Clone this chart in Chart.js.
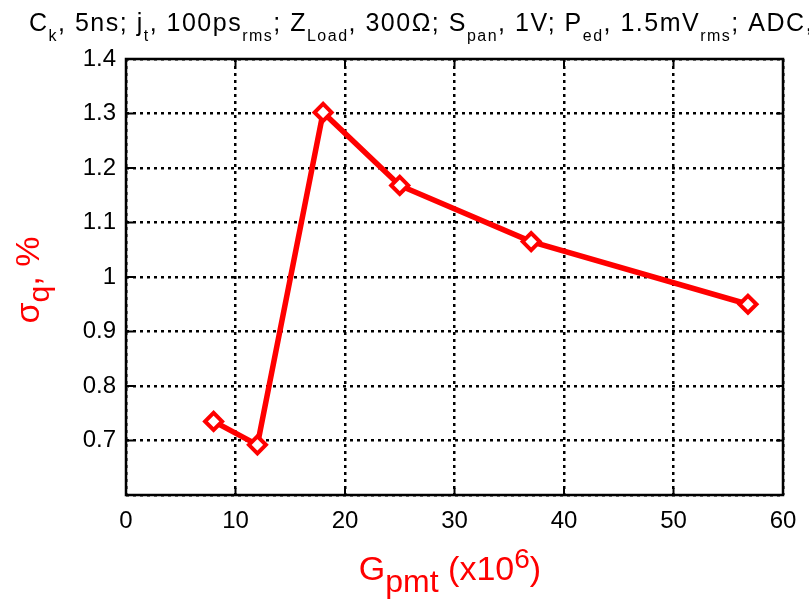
<!DOCTYPE html>
<html>
<head>
<meta charset="utf-8">
<script src="https://cdn.jsdelivr.net/npm/chart.js@4"></script>
<style>
  html, body { margin: 0; padding: 0; background: #fff; }
  #wrap { width: 809px; height: 605px; }
</style>
</head>
<body>
<div id="wrap"><canvas id="gainChart" width="809" height="605"></canvas></div>
<script>
// PMT gain vs charge resolution
const gains = [8, 12, 18, 25, 37, 56.8];
const sigmaQ = [0.735, 0.692, 1.302, 1.168, 1.065, 0.95];
const xTicks = [0, 10, 20, 30, 40, 50, 60];
const yTicks = [0.6, 0.7, 0.8, 0.9, 1, 1.1, 1.2, 1.3, 1.4];

const FONT = '"Liberation Sans", Arial, Helvetica, sans-serif';
const RED = '#ff0000';

// rich text pieces: [text, 'sub' | 'sup' | '']
const titleParts = [
    ['C', ''], ['k', 'sub'], [', 5ns; j', ''], ['t', 'sub'], [', 100ps', ''], ['rms', 'sub'],
    ['; Z', ''], ['Load', 'sub'], [', 300Ω; S', ''], ['pan', 'sub'], [', 1V; P', ''], ['ed', 'sub'],
    [', 1.5mV', ''], ['rms', 'sub'], ['; ADC,', '']
];
const yLabelParts = [['σ', ''], ['q', 'sub'], [', %', '']];
const xLabelParts = [['G', ''], ['pmt', 'sub'], [' (x10', ''], ['6', 'sup'], [')', '']];

// st: {size, sub, sup, subDy, supDy, spacing}
function drawRich(ctx, parts, x, y, st, align) {
    const sizeFor = m => (m === 'sub' ? st.sub : (m === 'sup' ? st.sup : st.size));
    ctx.letterSpacing = (st.spacing || 0) + 'px';
    let total = 0;
    parts.forEach(([t, m]) => { ctx.font = sizeFor(m) + 'px ' + FONT; total += ctx.measureText(t).width; });
    let cx = align === 'center' ? x - total / 2 : x;
    parts.forEach(([t, m]) => {
        ctx.font = sizeFor(m) + 'px ' + FONT;
        const dy = m === 'sub' ? st.subDy : (m === 'sup' ? st.supDy : 0);
        ctx.fillText(t, cx, y + dy);
        cx += ctx.measureText(t).width;
    });
    ctx.letterSpacing = '0px';
}

const decorations = {
    id: 'decorations',
    afterDraw(chart) {
        const { ctx, chartArea: a, scales } = chart;
        ctx.save();
        // inward tick marks on all four sides
        ctx.strokeStyle = '#000';
        ctx.lineWidth = 2;
        ctx.beginPath();
        xTicks.forEach(v => {
            const px = scales.x.getPixelForValue(v);
            ctx.moveTo(px, a.bottom); ctx.lineTo(px, a.bottom - 7);
            ctx.moveTo(px, a.top); ctx.lineTo(px, a.top + 7);
        });
        yTicks.forEach(v => {
            const py = scales.y.getPixelForValue(v);
            ctx.moveTo(a.left, py); ctx.lineTo(a.left + 7, py);
            ctx.moveTo(a.right, py); ctx.lineTo(a.right - 7, py);
        });
        ctx.stroke();
        // box
        ctx.lineWidth = 2.5;
        ctx.strokeRect(a.left, a.top, a.right - a.left, a.bottom - a.top);

        // title
        ctx.fillStyle = '#000';
        ctx.textBaseline = 'alphabetic';
        drawRich(ctx, titleParts, 29, 31, { size: 25, sub: 16, subDy: 10, spacing: 1.5 }, 'left');

        // axis labels
        ctx.fillStyle = RED;
        drawRich(ctx, xLabelParts, 450, 580, { size: 34, sub: 32, sup: 28, subDy: 12, supDy: -12 }, 'center');
        ctx.save();
        ctx.translate(39, 280);
        ctx.rotate(-Math.PI / 2);
        drawRich(ctx, yLabelParts, 0, 0, { size: 34, sub: 30, subDy: 10 }, 'center');
        ctx.restore();
        ctx.restore();
    }
};

new Chart(document.getElementById('gainChart'), {
    type: 'line',
    data: {
        datasets: [{
            data: gains.map((g, i) => ({ x: g, y: sigmaQ[i] })),
            borderColor: RED,
            borderWidth: 5.5,
            backgroundColor: '#fff',
            pointStyle: 'rectRot',
            pointRadius: 8.5,
            pointBorderWidth: 4,
            pointBorderColor: RED,
            pointBackgroundColor: '#fff',
            tension: 0
        }]
    },
    options: {
        responsive: false,
        animation: false,
        layout: { padding: { left: 0, top: 59, right: 26, bottom: 0 } },
        plugins: { legend: { display: false }, tooltip: { enabled: false } },
        scales: {
            x: {
                type: 'linear',
                min: 0, max: 60,
                afterFit(s) { s.height = 110; },
                afterBuildTicks(s) { s.ticks = xTicks.map(v => ({ value: v })); },
                border: { display: false, dash: [3, 4] },
                grid: { color: '#000', lineWidth: 2.5, drawTicks: false },
                ticks: { color: '#000', padding: 12, font: { family: FONT, size: 24 } }
            },
            y: {
                type: 'linear',
                min: 0.6, max: 1.4,
                afterFit(s) { s.width = 126; },
                afterBuildTicks(s) { s.ticks = yTicks.map(v => ({ value: v })); },
                border: { display: false, dash: [3, 4] },
                grid: { color: '#000', lineWidth: 2.5, drawTicks: false },
                ticks: {
                    color: '#000', padding: 10, font: { family: FONT, size: 24 },
                    callback: v => (v < 0.65 ? '' : String(Math.round(v * 10) / 10))
                }
            }
        }
    },
    plugins: [decorations]
});
</script>
</body>
</html>
